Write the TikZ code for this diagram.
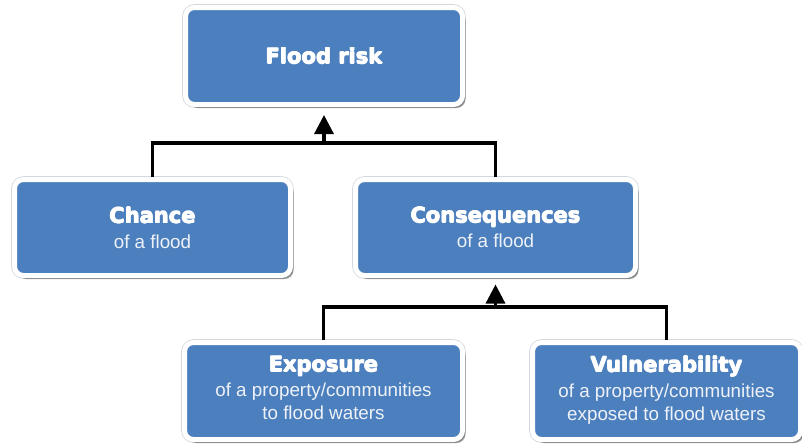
\documentclass[tikz,border=0pt]{standalone}
\usepackage{fontspec}
\setmainfont{Liberation Sans}
\newfontfamily\heavyfont{DejaVu Sans Bold}
\usetikzlibrary{shadows,arrows.meta}

\definecolor{boxblue}{HTML}{4C7FBD}
\definecolor{subwhite}{HTML}{EEF2F8}
\definecolor{rimgrey}{HTML}{D4D8DE}

% heavy heading: the bold face set a few times with tiny offsets
\newcommand{\heavy}[1]{\rlap{\kern0.5pt#1}\rlap{\kern-0.5pt#1}\rlap{\raisebox{0.4pt}{#1}}\rlap{\raisebox{-0.4pt}{#1}}#1}
\newcommand{\titletext}[1]{{\heavyfont\fontsize{21pt}{25pt}\selectfont\color{white}\heavy{#1}}}
% extra depth under the last line lifts a three-line block a little
\newcommand{\lift}{\rule[-6pt]{0pt}{0pt}}

\tikzset{
  box/.style={draw=white, line width=5pt, fill=boxblue, rounded corners=9pt,
    preaction={draw=rimgrey, line width=6.6pt},
    drop shadow={shadow xshift=3pt, shadow yshift=-3.5pt, fill=black, opacity=0.4},
    align=center, inner sep=0pt, text=subwhite,
    font=\fontsize{18.8pt}{23pt}\selectfont},
  link/.style={draw=black, line width=3.2pt, line join=miter},
  uparrow/.style={link, -{Triangle[width=19pt,length=19pt]}},
}

\begin{document}
\begin{tikzpicture}[x=1pt, y=-1pt]
  \useasboundingbox (0,0) rectangle (802,445);

  % boxes
  \node[box, minimum width=277pt, minimum height=97pt] (risk) at (324,56)
    {\titletext{Flood risk}};
  \node[box, minimum width=276pt, minimum height=96pt] (chance) at (152.5,227.5)
    {\titletext{Chance}\\[2pt]of a flood};
  \node[box, minimum width=280pt, minimum height=96pt] (cons) at (495.5,227.5)
    {\titletext{Consequences}\\[2pt]of a flood};
  \node[box, minimum width=278pt, minimum height=97pt] (expo) at (323.5,391)
    {\titletext{Exposure}\\[2pt]of a property/communities\\to flood waters\lift};
  \node[box, minimum width=268pt, minimum height=97pt] (vuln) at (666.5,391)
    {\titletext{Vulnerability}\\[2pt]of a property/communities\\exposed to flood waters\lift};

  % junctions
  \coordinate (j1) at (risk.south |- 0,143);
  \coordinate (j2) at (cons.south |- 0,307);

  % connectors
  \draw[link] (chance.north) |- (j1) -| (cons.north);
  \draw[uparrow] (j1) -- ([yshift=-8pt]risk.south);
  \draw[link] (expo.north) |- (j2) -| (vuln.north);
  \draw[uparrow] (j2) -- ([yshift=-6.5pt]cons.south);
\end{tikzpicture}
\end{document}
